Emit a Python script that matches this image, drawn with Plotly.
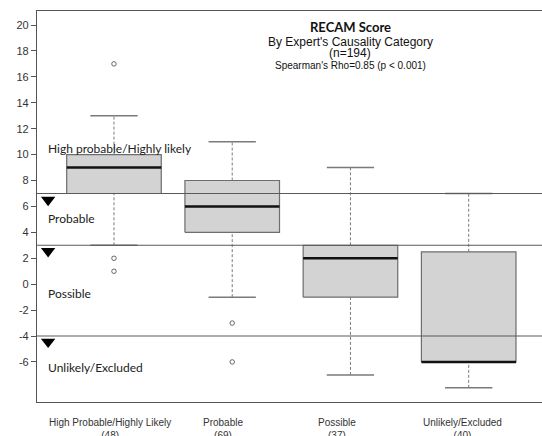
import plotly.graph_objects as go

# Box summary per expert category
categories = ["High Probable/Highly Likely", "Probable", "Possible", "Unlikely/Excluded"]
counts = [48, 69, 37, 40]
positions = [1, 2, 3, 4]
whisker_low = [3, -1, -7, -8]
q1 = [7, 4, -1, -6]
median = [9, 6, 2, -6]
q3 = [10, 8, 3, 2.5]
whisker_high = [13, 11, 9, 7]
outliers = [[17, 2, 1], [-3, -6], [], []]

# Causality thresholds and region labels
thresholds = [7, 3, -4]
marker_y = [6.5, 2.55, -4.45]
region_labels = ["High probable/Highly likely", "Probable", "Possible", "Unlikely/Excluded"]
region_label_y = [10.5, 5.1, -0.75, -6.45]

y_ticks = list(range(-6, 21, 2))

X_MIN, X_MAX = 0.349, 4.62
Y_MIN, Y_MAX = -9.09, 21.08
BOX_HALF = 0.40
CAP_HALF = 0.20

fig = go.Figure()

for i, x in enumerate(positions):
    # whiskers (dashed) from box edges to caps
    for a, b in ((whisker_low[i], q1[i]), (q3[i], whisker_high[i])):
        fig.add_trace(go.Scatter(x=[x, x], y=[a, b], mode="lines",
                                 line=dict(color="#7a7a7a", width=1, dash="3px,2px"),
                                 hoverinfo="skip", showlegend=False))
    # caps
    for v in (whisker_low[i], whisker_high[i]):
        fig.add_trace(go.Scatter(x=[x - CAP_HALF, x + CAP_HALF], y=[v, v], mode="lines",
                                 line=dict(color="#7a7a7a", width=1.5),
                                 hoverinfo="skip", showlegend=False))
    # box body
    fig.add_trace(go.Scatter(
        x=[x - BOX_HALF, x + BOX_HALF, x + BOX_HALF, x - BOX_HALF, x - BOX_HALF],
        y=[q1[i], q1[i], q3[i], q3[i], q1[i]],
        mode="lines", fill="toself", fillcolor="#d3d3d3",
        line=dict(color="#6e6e6e", width=1.2),
        hoverinfo="skip", showlegend=False))
    # median
    fig.add_trace(go.Scatter(x=[x - BOX_HALF, x + BOX_HALF], y=[median[i], median[i]],
                             mode="lines", line=dict(color="#111111", width=2.5),
                             hoverinfo="skip", showlegend=False))
    # outliers
    if outliers[i]:
        fig.add_trace(go.Scatter(x=[x] * len(outliers[i]), y=outliers[i], mode="markers",
                                 marker=dict(symbol="circle-open", size=4.5, color="#666666",
                                             line=dict(width=1)),
                                 hoverinfo="skip", showlegend=False))

# threshold lines drawn over the boxes
for t in thresholds:
    fig.add_trace(go.Scatter(x=[X_MIN, X_MAX], y=[t, t], mode="lines",
                             line=dict(color="#5a5a5a", width=1.1),
                             hoverinfo="skip", showlegend=False))

fig.add_trace(go.Scatter(x=[0.443] * len(marker_y), y=marker_y, mode="markers",
                         marker=dict(symbol="triangle-down", size=12.5, color="black"),
                         hoverinfo="skip", showlegend=False))

annotations = []
for lab, y in zip(region_labels, region_label_y):
    annotations.append(dict(x=0.425, y=y, xref="x", yref="y", text=lab, showarrow=False,
                            xanchor="left", yanchor="middle",
                            font=dict(family="Lato", size=12, color="#222222")))

title_lines = [("<b>RECAM Score</b>", 19.85, 13, "Lato"),
               ("By Expert's Causality Category", 18.7, 12, "Liberation Sans"),
               ("(n=194)", 17.85, 12, "Liberation Sans"),
               ("Spearman's Rho=0.85 (p < 0.001)", 16.9, 10, "Liberation Sans")]
for txt, y, sz, fam in title_lines:
    annotations.append(dict(x=3.0, y=y, xref="x", yref="y", text=txt, showarrow=False,
                            xanchor="center", yanchor="middle",
                            font=dict(family=fam, size=sz, color="#111111")))

label_x = [0.967, 1.923, 2.887, 3.945]
for cx, cat, n in zip(label_x, categories, counts):
    annotations.append(dict(x=cx, y=0, xref="x", yref="paper", yshift=-13,
                            text=f"{cat}<br>({n})", showarrow=False,
                            xanchor="center", yanchor="top",
                            font=dict(family="Liberation Sans", size=10, color="#333333")))

fig.update_layout(
    width=542, height=436,
    margin=dict(l=37, r=0, t=11, b=34),
    paper_bgcolor="white", plot_bgcolor="white",
    annotations=annotations,
    xaxis=dict(range=[X_MIN, X_MAX], showgrid=False, zeroline=False, showticklabels=False,
               ticks="", showline=True, linecolor="#555555", linewidth=1.2, mirror=True),
    yaxis=dict(range=[Y_MIN, Y_MAX], showgrid=False, zeroline=False,
               tickvals=y_ticks, ticktext=[str(v) for v in y_ticks],
               ticks="outside", ticklen=5, tickcolor="#555555",
               tickfont=dict(family="Liberation Sans", size=11, color="#333333"),
               showline=True, linecolor="#555555", linewidth=1.2),
)

fig.write_html("out.html")
